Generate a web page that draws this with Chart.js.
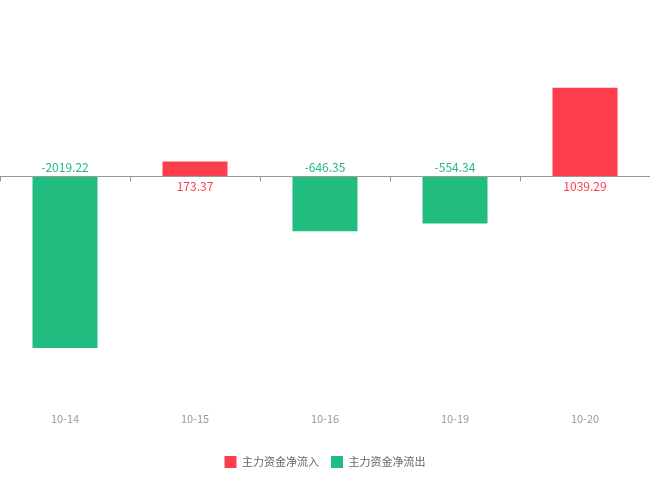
<!DOCTYPE html>
<html>
<head>
<meta charset="utf-8">
<script src="https://cdn.jsdelivr.net/npm/chart.js@4/dist/chart.umd.min.js"></script>
<style>
  html,body{margin:0;padding:0;background:#fff;}
  #wrap{width:650px;height:488px;}
</style>
</head>
<body>
<div id="wrap"><canvas id="c"></canvas></div>
<script>
// daily main-force net flow (万元)
const categories = ['10-14', '10-15', '10-16', '10-19', '10-20'];
const netFlow = [-2019.22, 173.37, -646.35, -554.34, 1039.29];
const seriesNames = ['主力资金净流入', '主力资金净流出'];

const RED = '#fd3d4c';
const GREEN = '#21bc7f';

// split by sign so each colour gets its own legend entry
const inflow = netFlow.map(v => v >= 0 ? v : null);
const outflow = netFlow.map(v => v < 0 ? v : null);

const zeroAxis = {
  id: 'zeroAxis',
  afterDatasetsDraw(chart){
    const ctx = chart.ctx, x = chart.scales.x, y = chart.scales.y;
    const y0 = Math.round(y.getPixelForValue(0)) + 0.5;
    ctx.save();
    ctx.strokeStyle = '#999';
    ctx.lineWidth = 1;
    ctx.beginPath();
    ctx.moveTo(x.left, y0); ctx.lineTo(x.right, y0);
    const n = categories.length, step = (x.right - x.left) / n;
    for(let i = 0; i <= n; i++){
      const px = Math.round(x.left + i * step) + 0.5;
      ctx.moveTo(px, y0); ctx.lineTo(px, y0 + 5);
    }
    ctx.stroke();
    // value labels sit on the opposite side of the zero line
    ctx.font = '12px "Noto Sans CJK SC", sans-serif';
    ctx.textAlign = 'center';
    ctx.textBaseline = 'middle';
    netFlow.forEach((v, i) => {
      const px = x.getPixelForValue(i);
      ctx.fillStyle = v >= 0 ? RED : GREEN;
      ctx.fillText(v.toFixed(2), px, v >= 0 ? y0 + 10 : y0 - 9);
    });
    ctx.restore();
  }
};

new Chart(document.getElementById('c'), {
  type: 'bar',
  data: {
    labels: categories,
    datasets: [
      { label: seriesNames[0], data: inflow, backgroundColor: RED, borderWidth: 0 },
      { label: seriesNames[1], data: outflow, backgroundColor: GREEN, borderWidth: 0 }
    ]
  },
  options: {
    responsive: true,
    maintainAspectRatio: false,
    animation: false,
    layout: { padding: { top: 6, left: 0, right: 0, bottom: 10 } },
    datasets: { bar: { categoryPercentage: 1, barPercentage: 0.5 } },
    plugins: {
      tooltip: { enabled: false },
      legend: {
        position: 'bottom',
        labels: {
          boxWidth: 12, boxHeight: 12, padding: 12,
          color: '#666',
          font: { family: '"Noto Sans CJK SC", sans-serif', size: 11 }
        }
      }
    },
    scales: {
      x: {
        stacked: true,
        grid: { display: false },
        border: { display: false },
        ticks: { color: '#999', padding: 15, font: { family: '"Noto Sans CJK SC", sans-serif', size: 11 } },
        afterFit(s){ s.height = 55; }
      },
      y: {
        stacked: true,
        min: -2500, max: 2000,
        grid: { display: false, drawTicks: false },
        border: { display: false },
        ticks: { display: false }
      }
    }
  },
  plugins: [zeroAxis]
});
</script>
</body>
</html>
